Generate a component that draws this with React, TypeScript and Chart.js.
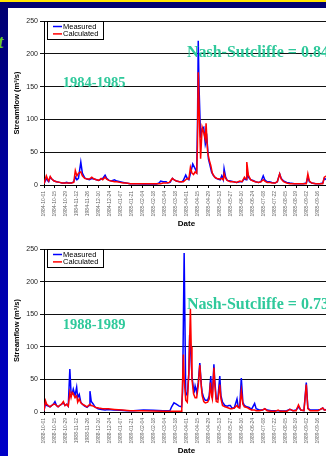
import React, { useEffect, useRef } from 'react';
import { Chart, registerables } from 'chart.js';

Chart.register(...registerables);
Chart.defaults.font.family = 'Arial, "Liberation Sans", sans-serif';

const seriesNames = ['Measured', 'Calculated'];
const seriesColors = ['#0000ff', '#ff0000'];
const NOTE_COLOR = '#2fc99b';

const tickLabels1984 = [
  '1984-10-01', '1984-10-15', '1984-10-29', '1984-11-12', '1984-11-26', '1984-12-10', '1984-12-24',
  '1985-01-07', '1985-01-21', '1985-02-04', '1985-02-18', '1985-03-04', '1985-03-18', '1985-04-01',
  '1985-04-15', '1985-04-29', '1985-05-13', '1985-05-27', '1985-06-10', '1985-06-24', '1985-07-08',
  '1985-07-22', '1985-08-05', '1985-08-19', '1985-09-02', '1985-09-16', '1985-09-30',
];
const tickLabels1988 = [
  '1988-10-01', '1988-10-15', '1988-10-29', '1988-11-12', '1988-11-26', '1988-12-10', '1988-12-24',
  '1989-01-07', '1989-01-21', '1989-02-04', '1989-02-18', '1989-03-04', '1989-03-18', '1989-04-01',
  '1989-04-15', '1989-04-29', '1989-05-13', '1989-05-27', '1989-06-10', '1989-06-24', '1989-07-08',
  '1989-07-22', '1989-08-05', '1989-08-19', '1989-09-02', '1989-09-16', '1989-09-30',
];

// [day since 1 Oct, streamflow m3/s]
const measured1984 = [
  [0, 2], [3, 10], [5, 6], [6, 5], [8, 12], [10, 9], [13, 6], [16, 5], [20, 4], [23, 3], [26, 3], [29, 4], [31, 3],
  [35, 3], [38, 5], [40, 12], [42, 8], [44, 10], [47, 35], [49, 18], [52, 11], [55, 9], [58, 8], [61, 10], [64, 9],
  [67, 8], [70, 7], [73, 9], [75, 10], [78, 15], [80, 10], [83, 7], [86, 6], [90, 8], [93, 6], [97, 5], [101, 4],
  [105, 3], [110, 2], [115, 2], [120, 2], [127, 1.5], [135, 1.5], [144, 1.5], [147, 3], [149, 6], [152, 5], [156, 5],
  [158, 3], [161, 4], [164, 10], [166, 8], [169, 6], [173, 5], [176, 5], [178, 7], [181, 15], [183, 10], [185, 8],
  [188, 22], [190, 32], [193, 25], [195, 20], [196, 90], [197, 220], [198, 150], [200, 72], [202, 86], [204, 88],
  [206, 62], [208, 72], [210, 40], [212, 30], [214, 20], [216, 15], [219, 11], [222, 9], [225, 8], [227, 14],
  [229, 8], [230, 25], [232, 12], [234, 7], [238, 6], [242, 5], [246, 4], [250, 5], [253, 5], [256, 10], [258, 8],
  [259, 24], [261, 12], [264, 8], [267, 7], [270, 5], [274, 4], [277, 5], [280, 14], [282, 8], [285, 5], [288, 5],
  [291, 4], [295, 3], [298, 5], [301, 17], [303, 10], [306, 6], [310, 4], [314, 3], [320, 2], [326, 2], [331, 2],
  [335, 3], [337, 12], [339, 5], [342, 3], [347, 2], [352, 2], [356, 3], [358, 10], [361, 8], [364, 6],
];
const calculated1984 = [
  [0, 2], [3, 14], [5, 8], [6, 6], [8, 13], [10, 9], [13, 6], [16, 5], [20, 4], [23, 3], [26, 3], [29, 3], [31, 3],
  [35, 3], [38, 4], [40, 22], [42, 14], [44, 18], [47, 20], [49, 14], [52, 10], [55, 9], [58, 9], [61, 12], [64, 9],
  [67, 8], [70, 7], [73, 10], [75, 8], [78, 12], [80, 9], [83, 7], [86, 6], [90, 5], [93, 5], [97, 4], [101, 3],
  [105, 3], [110, 2], [115, 2], [120, 2], [127, 2], [135, 2], [144, 2], [147, 2], [149, 2], [152, 3], [156, 3],
  [160, 4], [164, 10], [166, 8], [169, 6], [173, 5], [176, 5], [178, 5], [181, 8], [183, 10], [185, 9], [187, 27],
  [189, 18], [191, 16], [193, 20], [195, 18], [196, 60], [197, 172], [198, 120], [200, 40], [202, 88], [204, 80],
  [206, 70], [207, 94], [209, 50], [211, 38], [213, 30], [215, 18], [218, 12], [221, 10], [224, 9], [227, 10],
  [229, 8], [230, 17], [232, 10], [234, 7], [238, 5], [242, 5], [246, 4], [250, 6], [253, 5], [256, 12], [258, 9],
  [259, 35], [261, 15], [264, 8], [267, 6], [270, 5], [274, 4], [277, 5], [280, 8], [282, 6], [285, 4], [288, 4],
  [291, 3], [295, 3], [298, 5], [301, 17], [303, 9], [306, 5], [310, 3], [314, 2], [320, 2], [326, 2], [331, 2],
  [335, 2], [337, 17], [339, 6], [342, 3], [347, 2], [352, 2], [356, 2], [358, 12], [361, 14], [364, 13],
];
const measured1988 = [
  [0, 2], [2, 14], [3.4, 10], [5.5, 9], [7.7, 8], [10, 10], [12, 12], [14, 16], [16, 10], [18, 8], [20, 10],
  [22.5, 12], [24.7, 14], [26.8, 10], [29, 12], [31, 9], [33, 66], [34.5, 30], [36, 28], [37.4, 35], [39.6, 25],
  [41.7, 38], [43, 22], [45, 27], [47, 15], [49, 12], [52, 9], [55, 7], [57.5, 10], [58.7, 32], [60.4, 16], [63, 12],
  [65, 8], [69, 5], [73.6, 4], [78, 3], [82, 4], [88.5, 3], [97, 2.5], [105.5, 2], [114, 2], [127, 3], [139.5, 2.5],
  [152, 2], [160.8, 2], [163, 8], [166, 14], [169, 12], [172.7, 9], [175.7, 8], [177, 30], [179, 244], [181, 30],
  [183, 25], [185, 60], [186, 118], [187, 100], [189, 55], [191, 35], [192, 32], [193, 40], [195, 30], [197, 45],
  [199, 75], [201, 40], [202, 30], [204, 22], [206, 18], [209, 18], [211, 25], [213, 55], [214, 30], [215, 22],
  [217, 73], [218, 50], [220, 20], [222, 20], [224.5, 55], [226, 25], [228, 15], [231, 10], [234, 9], [236, 10],
  [238, 10], [240, 6], [243, 6], [246.5, 20], [248, 8], [250, 8], [252, 52], [254, 15], [256, 10], [259, 8], [262, 7],
  [265, 4], [269, 13], [271, 5], [275, 3], [279, 3], [282, 5], [285, 3], [290, 2], [295, 2], [299, 2], [305, 1.5],
  [310, 2], [314, 4], [318, 2], [322, 3], [325, 8], [328, 3], [332, 2], [335, 45], [337, 6], [340, 3], [345, 3],
  [350, 3], [353, 4], [356, 6], [358, 3], [362, 4], [364, 3],
];
const calculated1988 = [
  [0, 2], [2, 17], [3.4, 12], [5.5, 10], [7.7, 8], [10, 10], [12, 12], [14, 12], [16, 10], [18, 8], [20, 10],
  [22.5, 12], [24.7, 16], [26.8, 10], [29, 12], [31, 9], [33, 30], [34.5, 22], [36, 30], [37.4, 28], [39.6, 22],
  [41.7, 25], [43, 15], [45, 20], [47, 14], [49, 12], [52, 10], [55, 8], [58.7, 12], [60.4, 10], [63, 9], [66, 7],
  [70, 6], [75, 5], [82, 5], [90, 4], [100, 3], [110, 2], [125, 2], [140, 1.5], [155, 1], [165, 1], [172, 1], [175, 1],
  [176, 5], [178, 88], [179, 50], [181, 18], [183, 15], [185, 60], [187, 158], [188, 100], [189, 50], [191, 28],
  [193, 22], [195, 22], [197, 40], [199, 72], [201, 38], [202, 25], [204, 16], [206, 14], [209, 15], [211, 20],
  [212.5, 45], [214, 25], [215, 20], [217, 68], [218, 45], [220, 16], [222, 15], [224.5, 42], [226, 20], [228, 10],
  [231, 8], [234, 7], [238, 5], [240, 5], [243, 6], [246.5, 10], [248, 7], [250, 6], [252, 32], [254, 12], [256, 8],
  [259, 7], [262, 5], [265, 3], [269, 3], [271, 2], [275, 2], [279, 3], [282, 5], [285, 2], [290, 1], [295, 1],
  [299, 3], [302, 1], [310, 1], [314, 4], [318, 2], [322, 2], [325, 11], [328, 3], [332, 2], [335, 42], [337, 5],
  [340, 2], [345, 2], [350, 2], [353, 4], [356, 6], [358, 3], [362, 3], [364, 2],
];

type Note = { text: string; x: number; y: number; size: number };

function makeOverlay(notes: Note[]) {
  return {
    id: 'overlay',
    afterDraw(chart: any) {
      const { ctx, chartArea, scales } = chart;
      ctx.save();
      ctx.textBaseline = 'middle';
      ctx.textAlign = 'left';
      for (const n of notes) {
        ctx.font = `bold ${n.size}px "Liberation Serif", "Times New Roman", serif`;
        ctx.fillStyle = NOTE_COLOR;
        ctx.fillText(n.text, scales.x.getPixelForValue(n.x), scales.y.getPixelForValue(n.y));
      }
      // legend box
      const lx = Math.round(chartArea.left) + 3;
      const ly = Math.round(chartArea.top);
      const w = 56;
      const h = 18;
      ctx.fillStyle = '#ffffff';
      ctx.fillRect(lx, ly, w, h);
      ctx.strokeStyle = '#000000';
      ctx.lineWidth = 1;
      ctx.strokeRect(lx + 0.5, ly + 0.5, w, h);
      ctx.font = '7.5px Arial, "Liberation Sans", sans-serif';
      chart.data.datasets.forEach((ds: any, i: number) => {
        const y = ly + 5.5 + i * 7.4;
        ctx.strokeStyle = ds.borderColor;
        ctx.lineWidth = 1.5;
        ctx.beginPath();
        ctx.moveTo(lx + 6, y);
        ctx.lineTo(lx + 15, y);
        ctx.stroke();
        ctx.fillStyle = '#000000';
        ctx.fillText(ds.label, lx + 16, y + 0.5);
      });
      ctx.restore();
    },
  };
}

type FlowProps = {
  top: number;
  height: number;
  padTop: number;
  xHeight: number;
  datePad: number;
  measured: number[][];
  calculated: number[][];
  ticks: string[];
  notes: Note[];
};

function FlowChart(props: FlowProps) {
  const ref = useRef<HTMLCanvasElement>(null);
  useEffect(() => {
    const { measured, calculated, ticks, notes, padTop, xHeight, datePad } = props;
    const series = [measured, calculated];
    const chart = new Chart(ref.current as HTMLCanvasElement, {
      type: 'line',
      data: {
        datasets: series.map((s, i) => ({
          label: seriesNames[i],
          data: s.map(([x, y]) => ({ x, y })),
          borderColor: seriesColors[i],
          backgroundColor: seriesColors[i],
          borderWidth: 1.5,
          pointRadius: 0,
          tension: 0,
          order: i === 0 ? 1 : 0,
        })),
      },
      options: {
        responsive: false,
        animation: false,
        layout: { padding: { top: padTop, right: 19, left: 0, bottom: 0 } },
        plugins: { legend: { display: false }, tooltip: { enabled: false } },
        scales: {
          x: {
            type: 'linear',
            min: 0,
            max: 364,
            afterFit: (s: any) => { s.height = xHeight; },
            afterBuildTicks: (s: any) => { s.ticks = ticks.map((_, i) => ({ value: i * 14 })); },
            ticks: {
              autoSkip: false,
              maxRotation: 90,
              minRotation: 90,
              padding: 3,
              color: '#666666',
              font: { size: 5 },
              callback: (_v: any, i: number) => ticks[i],
            },
            grid: { drawOnChartArea: false, drawTicks: true, tickLength: 3, color: '#000000' },
            border: { display: true, color: '#000000', width: 1 },
            title: {
              display: true,
              text: 'Date',
              color: '#000000',
              font: { size: 8, weight: 'bold' },
              padding: { top: 0, bottom: datePad },
            },
          },
          y: {
            min: 0,
            max: 250,
            afterFit: (s: any) => { s.width = 36; },
            ticks: { stepSize: 50, padding: 2, color: '#222222', font: { size: 7 } },
            grid: { color: '#111111', lineWidth: 1, drawTicks: true, tickLength: 4 },
            border: { display: true, color: '#000000', width: 1 },
            title: {
              display: true,
              text: 'Streamflow (m³/s)',
              color: '#000000',
              font: { size: 7.5, weight: 'bold' },
              padding: { top: 4.5, bottom: 0 },
            },
          },
        },
      },
      plugins: [makeOverlay(notes)],
    } as any);
    return () => chart.destroy();
  }, []);
  return (
    <canvas
      ref={ref}
      width={340}
      height={props.height}
      style={{ position: 'absolute', left: 8, top: props.top, width: 340, height: props.height }}
    />
  );
}

export default function App() {
  return (
    <div
      style={{
        position: 'fixed',
        left: 0,
        top: 0,
        width: 326,
        height: 456,
        overflow: 'hidden',
        background: 'linear-gradient(to bottom, #000070 0%, #00009a 35%, #0000c8 100%)',
      }}
    >
      <div style={{ position: 'absolute', left: 0, top: 0, width: 326, height: 2, background: '#ffe400' }} />
      <div style={{ position: 'absolute', left: 8, top: 8, right: 0, bottom: 0, background: '#ffffff' }} />
      <span
        style={{
          position: 'absolute',
          left: -2,
          top: 32,
          fontFamily: '"Liberation Serif", serif',
          fontStyle: 'italic',
          fontWeight: 'bold',
          fontSize: 19,
          lineHeight: '19px',
          color: '#66cc22',
        }}
      >
        t
      </span>
      <FlowChart
        top={8}
        height={222}
        padTop={13}
        xHeight={45}
        datePad={1}
        measured={measured1984}
        calculated={calculated1984}
        ticks={tickLabels1984}
        notes={[
          { text: '1984-1985', x: 24, y: 155, size: 14.5 },
          { text: 'Nash-Sutcliffe = 0.84', x: 182.5, y: 201, size: 16 },
        ]}
      />
      <FlowChart
        top={228}
        height={228}
        padTop={21}
        xHeight={44}
        datePad={0}
        measured={measured1988}
        calculated={calculated1988}
        ticks={tickLabels1988}
        notes={[
          { text: '1988-1989', x: 24, y: 133, size: 14.5 },
          { text: 'Nash-Sutcliffe = 0.73', x: 182.5, y: 164, size: 16 },
        ]}
      />
    </div>
  );
}
